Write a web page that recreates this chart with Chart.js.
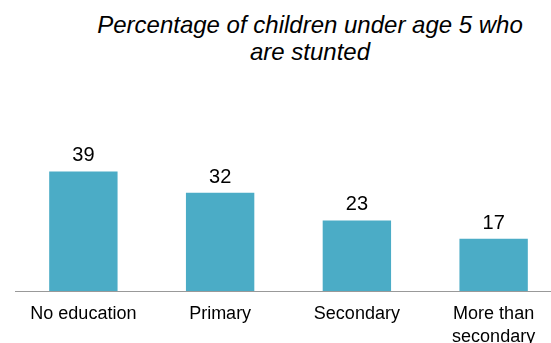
<!DOCTYPE html>
<html>
<head>
<meta charset="utf-8">
<script src="https://cdn.jsdelivr.net/npm/chart.js@4"></script>
<style>
  html, body { margin: 0; padding: 0; background: #fff; overflow: hidden; }
  #wrap { position: relative; width: 551px; height: 343px; overflow: hidden; }
  #title {
    position: absolute; left: 0; top: 11px; width: 620px;
    text-align: center; font: italic 24px "Liberation Sans", Arial, sans-serif;
    line-height: 27px; color: #000;
  }
  #stunted { position: absolute; left: 0; top: 0; }
</style>
</head>
<body>
<div id="wrap">
  <div id="title">Percentage of children under age 5 who<br>are stunted</div>
  <canvas id="stunted" width="562" height="343"></canvas>
</div>
<script>
const categories = ['No education', 'Primary', 'Secondary', ['More than', 'secondary']];
const stuntedPct = [39, 32, 23, 17];
const yMax = 60;

// value labels above each bar
const barValues = {
  id: 'barValues',
  afterDatasetsDraw(chart) {
    const ctx = chart.ctx;
    const meta = chart.getDatasetMeta(0);
    ctx.save();
    ctx.font = '20px "Liberation Sans", Arial, sans-serif';
    ctx.fillStyle = '#000';
    ctx.textAlign = 'center';
    ctx.textBaseline = 'alphabetic';
    meta.data.forEach((bar, i) => {
      ctx.fillText(String(stuntedPct[i]), bar.x, bar.y - 10);
    });
    ctx.restore();
  }
};

new Chart(document.getElementById('stunted').getContext('2d'), {
  type: 'bar',
  data: {
    labels: categories,
    datasets: [{
      data: stuntedPct,
      backgroundColor: '#4BACC6',
      categoryPercentage: 1,
      barPercentage: 0.5,
    }]
  },
  options: {
    responsive: false,
    animation: false,
    layout: { padding: { left: 15, right: 0, top: 107, bottom: 0 } },
    plugins: {
      legend: { display: false },
      tooltip: { enabled: false },
      title: { display: false }
    },
    scales: {
      x: {
        grid: { display: false, drawTicks: false },
        border: { display: true, color: '#999999', width: 1 },
        ticks: {
          color: '#000',
          font: { family: '"Liberation Sans", Arial, sans-serif', size: 18, lineHeight: 1.25 },
          padding: 12,
          maxRotation: 0,
          autoSkip: false
        },
        afterFit(scale) { scale.height = 52; }
      },
      y: {
        display: false,
        min: 0,
        max: yMax
      }
    }
  },
  plugins: [barValues]
});
</script>
</body>
</html>
